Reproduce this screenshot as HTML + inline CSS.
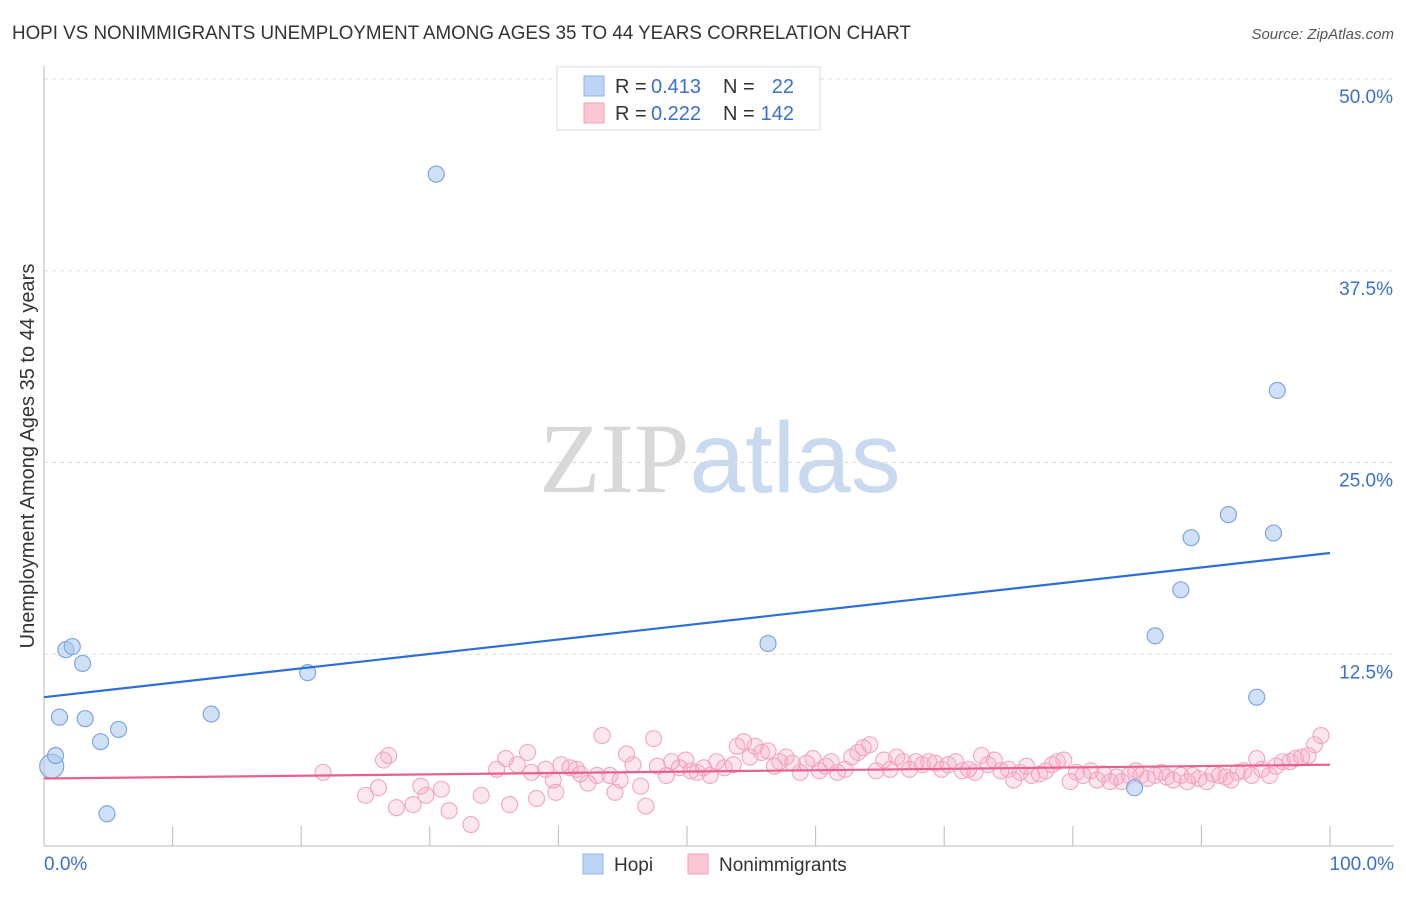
<!DOCTYPE html>
<html><head><meta charset="utf-8">
<style>
body{margin:0;background:#fff;font-family:"Liberation Sans",sans-serif;}
svg text{font-family:"Liberation Sans",sans-serif;}
</style></head>
<body>
<svg id="chart" width="1406" height="892" xmlns="http://www.w3.org/2000/svg">
<text x="12" y="39" font-size="19" fill="#333" textLength="899" lengthAdjust="spacingAndGlyphs">HOPI VS NONIMMIGRANTS UNEMPLOYMENT AMONG AGES 35 TO 44 YEARS CORRELATION CHART</text>
<text x="1394" y="39" font-size="15" fill="#555" text-anchor="end" font-style="italic">Source: ZipAtlas.com</text>
<text x="720" y="492" font-size="100" text-anchor="middle"><tspan fill="#d8d8d8" font-family="Liberation Serif">ZIP</tspan><tspan fill="#c9d9ef">atlas</tspan></text>
<text transform="translate(34,456) rotate(-90)" font-size="20" fill="#333" text-anchor="middle">Unemployment Among Ages 35 to 44 years</text>
<g id="grid"></g>
<g id="axes"></g>
<g id="marks"></g>
<g>
<rect x="557" y="67" width="263" height="63" fill="#fff" stroke="#ddd"/>
<rect x="584" y="76" width="20" height="20" fill="#bcd4f5" stroke="#8fb4e8"/>
<rect x="584" y="103" width="20" height="20" fill="#fcc8d6" stroke="#f0a0b8"/>
<text x="615" y="93" font-size="20" fill="#333">R =</text>
<text x="651" y="93" font-size="20" fill="#3a70c8">0.413</text>
<text x="723" y="93" font-size="20" fill="#333">N =</text>
<text x="794" y="93" font-size="20" fill="#3a70c8" text-anchor="end">22</text>
<text x="615" y="120" font-size="20" fill="#333">R =</text>
<text x="651" y="120" font-size="20" fill="#3a70c8">0.222</text>
<text x="723" y="120" font-size="20" fill="#333">N =</text>
<text x="794" y="120" font-size="20" fill="#3a70c8" text-anchor="end">142</text>
</g>
<g>
<rect x="583" y="854" width="20" height="20" fill="#bcd4f5" stroke="#8fb4e8"/>
<text x="614" y="871" font-size="19" fill="#333">Hopi</text>
<rect x="688" y="854" width="20" height="20" fill="#fcc8d6" stroke="#f0a0b8"/>
<text x="719" y="871" font-size="19" fill="#333">Nonimmigrants</text>
</g>
</svg>
<script>
const yTicks=[12.5,25,37.5,50];
const yTickLabels=["12.5%","25.0%","37.5%","50.0%"];
const xTickLabels=["0.0%","100.0%"];
const hopiX=[30.5,0.6,0.9,1.7,2.2,3.0,1.2,3.2,4.4,5.8,4.9,13.0,20.5,56.3,84.8,86.4,88.4,89.2,92.1,95.6,95.9,94.3];
const hopiY=[43.8,5.2,5.9,12.8,13.0,11.9,8.4,8.3,6.8,7.6,2.1,8.6,11.3,13.2,3.8,13.7,16.7,20.1,21.6,20.4,29.7,9.7];
const nonX=[21.7,25.0,26.0,26.4,26.8,27.4,28.7,29.3,29.7,30.9,31.5,33.2,34.0,35.2,35.9,36.2,36.8,37.6,37.9,38.3,39.0,39.6,39.8,40.2,40.9,41.4,41.7,42.3,43.0,43.4,44.0,44.4,44.8,45.3,45.8,46.4,46.8,47.4,47.7,48.4,48.8,49.4,49.9,50.3,50.8,51.3,51.8,52.3,52.9,53.6,53.9,54.4,54.9,55.3,55.8,56.3,56.8,57.2,57.7,58.2,58.8,59.3,59.8,60.3,60.8,61.2,61.7,62.3,62.8,63.3,63.7,64.2,64.7,65.3,65.8,66.3,66.8,67.3,67.8,68.3,68.8,69.3,69.8,70.3,70.9,71.4,71.9,72.4,72.9,73.4,73.9,74.4,75.0,75.4,75.9,76.4,76.8,77.4,77.9,78.4,78.8,79.3,79.8,80.3,80.8,81.4,81.9,82.4,82.9,83.4,83.8,84.4,84.9,85.3,85.8,86.4,86.9,87.3,87.8,88.4,88.9,89.3,89.8,90.4,90.9,91.4,91.9,92.3,92.8,93.3,93.9,94.3,94.7,95.3,95.8,96.3,96.9,97.3,97.8,98.3,98.8,99.3];
const nonY=[4.8,3.3,3.8,5.6,5.9,2.5,2.7,3.9,3.3,3.7,2.3,1.4,3.3,5.0,5.7,2.7,5.3,6.1,4.8,3.1,5.0,4.3,3.5,5.3,5.1,5.0,4.7,4.1,4.6,7.2,4.6,3.5,4.3,6.0,5.3,3.9,2.6,7.0,5.2,4.6,5.5,5.1,5.6,4.9,4.8,5.1,4.6,5.5,5.1,5.3,6.5,6.8,5.8,6.5,6.1,6.2,5.2,5.5,5.8,5.4,4.8,5.4,5.7,4.9,5.2,5.5,4.8,5.0,5.8,6.1,6.4,6.6,4.9,5.6,5.0,5.8,5.5,5.0,5.5,5.3,5.5,5.4,5.0,5.3,5.5,4.9,5.0,4.8,5.9,5.3,5.6,4.9,5.0,4.3,4.8,5.2,4.6,4.7,4.9,5.3,5.5,5.6,4.2,4.8,4.6,4.9,4.3,4.7,4.2,4.5,4.2,4.6,4.9,4.6,4.4,4.6,4.8,4.5,4.3,4.6,4.2,4.6,4.4,4.2,4.7,4.6,4.5,4.3,4.8,4.9,4.6,5.7,5.0,4.6,5.2,5.5,5.5,5.7,5.8,5.9,6.6,7.2];
const hopiLine=[9.7,19.1];
const nonLine=[4.4,5.3];
const NS="http://www.w3.org/2000/svg";
const X0=44,X1=1330,Y0=846,Y50=79;
const sx=v=>X0+(X1-X0)*v/100;
const sy=v=>Y0-(Y0-Y50)*v/50;
function mk(tag,attrs,parent){const e=document.createElementNS(NS,tag);for(const k in attrs)e.setAttribute(k,attrs[k]);parent.appendChild(e);return e;}
const grid=document.getElementById('grid'),axes=document.getElementById('axes'),marks=document.getElementById('marks');
yTicks.forEach((t,i)=>{
 const l=mk('line',{x1:X0,x2:1394,y1:sy(t),y2:sy(t),stroke:'#ddd','stroke-dasharray':'4,4'},grid);
 
 
 const tx=mk('text',{x:1393,y:sy(t)+24,'font-size':19,fill:'#3a70c8','text-anchor':'end'},axes);
 tx.textContent=yTickLabels[i];
 
 
});
const ax=mk('line',{x1:X0,x2:X0,y1:66,y2:Y0,stroke:'#bbb'},axes);


const bx=mk('line',{x1:X0,x2:1394,y1:Y0,y2:Y0,stroke:'#bbb'},axes);


for(let i=0;i<=10;i++){
 const t=mk('line',{x1:sx(i*10),x2:sx(i*10),y1:826,y2:Y0,stroke:'#bbb'},axes);
 
 
}
[[0,'start',44],[100,'end',1394]].forEach((d,i)=>{
 const t=mk('text',{x:d[2],y:870,'font-size':19,fill:'#3a70c8','text-anchor':d[1]},axes);
 t.textContent=xTickLabels[i];
 
 
});
nonX.forEach((x,i)=>{
 const c=mk('circle',{cx:sx(x),cy:sy(nonY[i]),r:8,fill:'rgba(248,170,195,0.28)',stroke:'#f2a6bd','stroke-width':1.1},marks);
 
 
});
hopiX.forEach((x,i)=>{
 const c=mk('circle',{cx:sx(x),cy:sy(hopiY[i]),r:i==1?12:8,fill:'rgba(170,200,240,0.55)',stroke:'#7fa6de','stroke-width':1.2},marks);
 
 
});
const hl=mk('line',{x1:sx(0),x2:sx(100),y1:sy(hopiLine[0]),y2:sy(hopiLine[1]),stroke:'#2d6fd6','stroke-width':2.2},marks);


const nl=mk('line',{x1:sx(0),x2:sx(100),y1:sy(nonLine[0]),y2:sy(nonLine[1]),stroke:'#e8618c','stroke-width':2.2},marks);


</script>
</body></html>
